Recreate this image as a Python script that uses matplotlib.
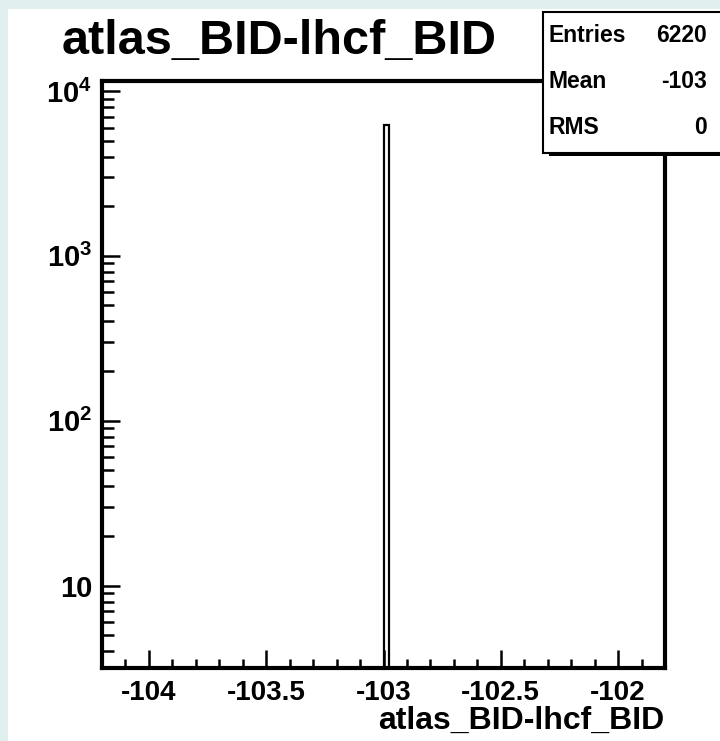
import matplotlib.pyplot as plt
import numpy as np
from matplotlib.patches import Rectangle
from matplotlib.ticker import FixedLocator, LogLocator, MultipleLocator, NullFormatter

plt.rcParams['font.family'] = ['Liberation Sans', 'DejaVu Sans']
plt.rcParams['font.weight'] = 'bold'
plt.rcParams['mathtext.fontset'] = 'custom'
plt.rcParams['mathtext.rm'] = 'Liberation Sans:bold'
plt.rcParams['mathtext.bf'] = 'Liberation Sans:bold'
plt.rcParams['mathtext.it'] = 'Liberation Sans:bold'

# histogram data
hist_name = 'atlas_BID-lhcf_BID'
bin_left = [-103.0]
bin_width = 0.024
bin_counts = [6220]
x_range = (-104.2, -101.8)
y_range = (3.16, 11500)

# stats box
stat_names = ['Entries', 'Mean', 'RMS']
stat_values = ['6220', '-103', '0']

x_ticks = [-104, -103.5, -103, -102.5, -102]
x_ticklabels = ['-104', '-103.5', '-103', '-102.5', '-102']
y_ticks = [10, 100, 1000, 10000]
y_ticklabels = ['10', r'$10^{2}$', r'$10^{3}$', r'$10^{4}$']

W, H = 720, 741
fig = plt.figure(figsize=(W / 100, H / 100), dpi=100)
fig.patch.set_facecolor('#e2efef')
# white canvas (ROOT pad) over the textured background
fig.patches.append(Rectangle((8 / W, 0), 1, (H - 9) / H, transform=fig.transFigure,
                             facecolor='white', edgecolor='none', zorder=-1))

ax = fig.add_axes([102 / W, 73 / H, 563 / W, 587 / H])
ax.set_zorder(1)
ax.set_facecolor('white')
ax.bar(bin_left, bin_counts, width=bin_width, align='edge', bottom=1,
       facecolor='white', edgecolor='black', linewidth=1.6)

ax.set_yscale('log')
ax.set_xlim(*x_range)
ax.set_ylim(*y_range)

ax.xaxis.set_major_locator(FixedLocator(x_ticks))
ax.set_xticklabels(x_ticklabels)
ax.xaxis.set_minor_locator(MultipleLocator(0.1))
ax.yaxis.set_major_locator(FixedLocator(y_ticks))
ax.set_yticklabels(y_ticklabels)
ax.yaxis.set_minor_locator(LogLocator(base=10, subs=np.arange(2, 10)))
ax.yaxis.set_minor_formatter(NullFormatter())

for s in ax.spines.values():
    s.set_linewidth(3)
ax.tick_params(which='both', direction='in', width=1.8, top=False, right=False)
ax.tick_params(axis='x', which='major', length=13, labelsize=20, pad=9)
ax.tick_params(axis='x', which='minor', length=6.5)
ax.tick_params(axis='y', which='major', length=13, labelsize=21, pad=7)
ax.tick_params(axis='y', which='minor', length=8.5)

# title and axis title
fig.text(62 / W, (H - 42) / H, hist_name, ha='left', va='center', fontsize=35, fontweight='bold')
fig.text(664 / W, (H - 721) / H, hist_name, ha='right', va='center', fontsize=23, fontweight='bold')

# stats box with shadow
bx, by, bw, bh = 543, 12, 200, 141
fig.patches.append(Rectangle(((bx + 6) / W, (H - by - bh - 3) / H), bw / W, bh / H,
                             transform=fig.transFigure, facecolor='black', edgecolor='none', zorder=5))
fig.patches.append(Rectangle((bx / W, (H - by - bh) / H), bw / W, bh / H,
                             transform=fig.transFigure, facecolor='white', edgecolor='black',
                             linewidth=1.5, zorder=6))
rows_y = [35, 82, 127]
for name, val, yy in zip(stat_names, stat_values, rows_y):
    fig.text(549 / W, (H - yy) / H, name, ha='left', va='center', fontsize=16.5, fontweight='bold', zorder=7)
    fig.text(707 / W, (H - yy) / H, val, ha='right', va='center', fontsize=16.5, fontweight='bold', zorder=7)

fig.savefig('out.png', dpi=100, facecolor=fig.get_facecolor())
